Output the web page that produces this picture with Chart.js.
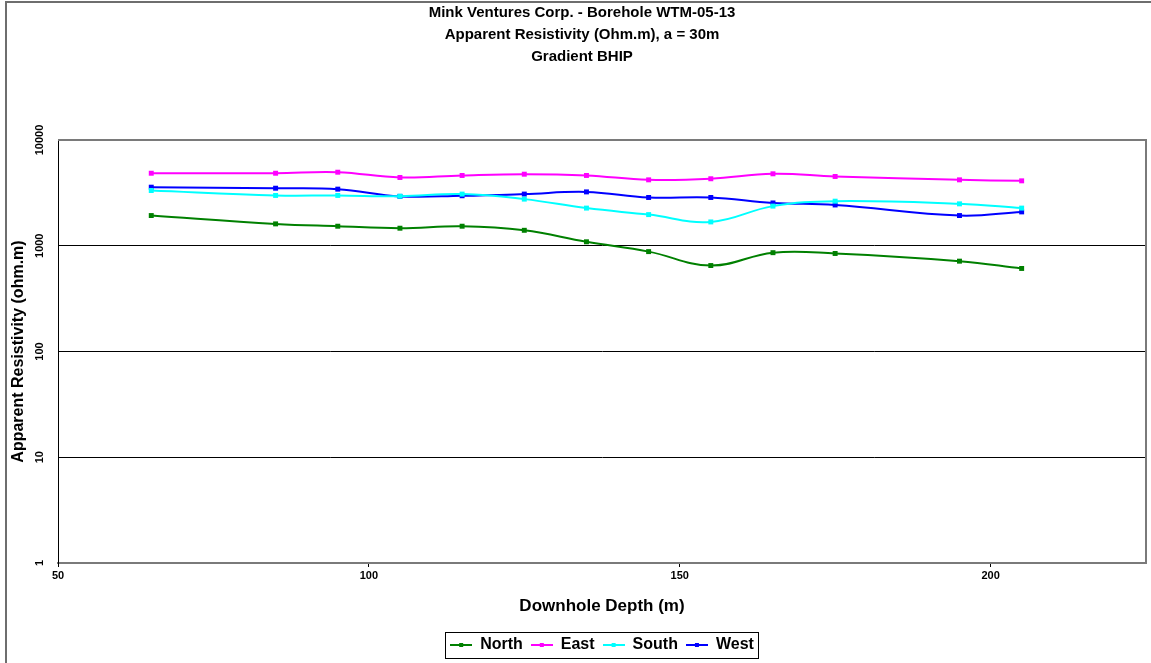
<!DOCTYPE html>
<html>
<head>
<meta charset="utf-8">
<script src="https://cdn.jsdelivr.net/npm/chart.js@4/dist/chart.umd.min.js"></script>
<style>
  html, body { margin: 0; padding: 0; background: #fff; overflow: hidden; }
  #wrap { position: relative; width: 1151px; height: 663px; overflow: hidden; }
  #chartResistivity { position: absolute; left: 0; top: 0; }
  #frame { position: absolute; left: 5px; top: 1px; width: 1170px; height: 700px; border: 2px solid #6e6e6e; pointer-events: none; }
</style>
</head>
<body>
<div id="wrap">
  <canvas id="chartResistivity" width="1165" height="663"></canvas>
  <div id="frame"></div>
</div>
<script>
const chartResistivity = document.getElementById('chartResistivity');

// depth of each reading (m)
const depths = [65, 85, 95, 105, 115, 125, 135, 145, 155, 165, 175, 195, 205];

// apparent resistivity (ohm.m)
const north = [1930, 1610, 1530, 1465, 1530, 1400, 1090, 880, 650, 860, 845, 715, 610];
const east = [4850, 4850, 4960, 4420, 4620, 4750, 4620, 4200, 4300, 4790, 4520, 4200, 4110];
const south = [3330, 2990, 2990, 2940, 3080, 2760, 2270, 1970, 1680, 2370, 2640, 2490, 2270];
const west = [3580, 3500, 3430, 2930, 2970, 3080, 3230, 2860, 2860, 2540, 2430, 1930, 2090];

const xTicks = [50, 100, 150, 200];
const yTicks = [1, 10, 100, 1000, 10000];

const seriesNames = ['North', 'East', 'South', 'West'];
const seriesColors = ['#008000', '#ff00ff', '#00ffff', '#0000ff'];
const seriesValues = [north, east, south, west];

const font = 'Liberation Sans, Arial, sans-serif';

// little line + square icon used in the legend
function legendIcon(color) {
  const c = document.createElement('canvas');
  c.width = 22;
  c.height = 6;
  const g = c.getContext('2d');
  g.fillStyle = color;
  g.fillRect(0, 2, 22, 2);
  g.fillRect(9, 1, 4, 4);
  return c;
}

const datasets = seriesNames.map((name, i) => ({
  label: name,
  data: depths.map((d, j) => ({ x: d, y: seriesValues[i][j] })),
  borderColor: seriesColors[i],
  backgroundColor: seriesColors[i],
  borderWidth: 2,
  pointStyle: 'rect',
  pointRadius: 3.5,
  pointBorderWidth: 0,
  tension: 0.4,
  fill: false,
}));

// grey frame on top and right of the plot, box around the legend
const framePlugin = {
  id: 'framePlugin',
  beforeDatasetsDraw(chart) {
    const { ctx, chartArea } = chart;
    ctx.save();
    ctx.strokeStyle = '#7a7a7a';
    ctx.lineWidth = 2;
    ctx.beginPath();
    ctx.moveTo(chartArea.left, chartArea.top);
    ctx.lineTo(chartArea.right, chartArea.top);
    ctx.lineTo(chartArea.right, chartArea.bottom);
    ctx.stroke();
    ctx.restore();
  },
  afterDraw(chart) {
    const boxes = chart.legend.legendHitBoxes;
    if (!boxes || !boxes.length) return;
    const left = Math.min(...boxes.map(b => b.left)) - 5;
    const right = Math.max(...boxes.map(b => b.left + b.width)) + 4;
    const top = Math.min(...boxes.map(b => b.top)) - 5;
    const bottom = Math.max(...boxes.map(b => b.top + b.height)) + 5;
    const ctx = chart.ctx;
    ctx.save();
    ctx.strokeStyle = '#000';
    ctx.lineWidth = 1;
    ctx.strokeRect(Math.round(left) + 0.5, Math.round(top) + 0.5, Math.round(right - left), Math.round(bottom - top));
    ctx.restore();
  },
};

new Chart(chartResistivity, {
  type: 'line',
  data: { datasets: datasets },
  plugins: [framePlugin],
  options: {
    responsive: false,
    animation: false,
    layout: { padding: { left: 18, right: 19, top: 0, bottom: 0 } },
    plugins: {
      title: {
        display: true,
        text: [
          'Mink Ventures Corp. - Borehole WTM-05-13',
          'Apparent Resistivity (Ohm.m), a = 30m',
          'Gradient BHIP',
        ],
        color: '#000',
        font: { family: font, size: 15, weight: 'bold', lineHeight: 22 / 15 },
        padding: { top: 2, bottom: 72 },
      },
      legend: {
        position: 'bottom',
        fullSize: false,
        labels: {
          color: '#000',
          font: { family: font, size: 16, weight: 'bold' },
          usePointStyle: true,
          pointStyleWidth: 22,
          padding: 8,
          generateLabels(chart) {
            const items = Chart.defaults.plugins.legend.labels.generateLabels(chart);
            items.forEach((it, i) => { it.pointStyle = legendIcon(seriesColors[i]); });
            return items;
          },
        },
      },
      tooltip: { enabled: false },
    },
    scales: {
      x: {
        type: 'linear',
        min: 50,
        max: 225,
        afterBuildTicks(scale) { scale.ticks = xTicks.map(v => ({ value: v })); },
        afterFit(scale) { scale.height = 66; },
        grid: { drawOnChartArea: false, drawTicks: true, tickLength: 4, color: '#000' },
        border: { color: '#7a7a7a', width: 2 },
        ticks: {
          color: '#000',
          font: { family: font, size: 11, weight: 'bold' },
          padding: 2,
          maxRotation: 0,
          callback: v => String(v),
        },
        title: {
          display: true,
          text: 'Downhole Depth (m)',
          color: '#000',
          font: { family: font, size: 17, weight: 'bold' },
          padding: { top: 6, bottom: 12 },
        },
      },
      y: {
        type: 'logarithmic',
        min: 1,
        max: 10000,
        afterBuildTicks(scale) { scale.ticks = yTicks.map(v => ({ value: v })); },
        afterFit(scale) { scale.width = 40; },
        grid: {
          drawTicks: false,
          color: c => (c.tick && (c.tick.value === 1 || c.tick.value === 10000)) ? 'rgba(0,0,0,0)' : '#000',
        },
        border: { color: '#000', width: 1 },
        ticks: {
          color: '#000',
          font: { family: font, size: 11, weight: 'bold' },
          minRotation: 90,
          maxRotation: 90,
          crossAlign: 'center',
          padding: 3,
          callback: v => String(v),
        },
        title: {
          display: true,
          text: 'Apparent Resistivity (ohm.m)',
          color: '#000',
          font: { family: font, size: 16, weight: 'bold' },
          padding: { top: -9, bottom: 0 },
          align: 'center',
        },
      },
    },
  },
});
</script>
</body>
</html>
